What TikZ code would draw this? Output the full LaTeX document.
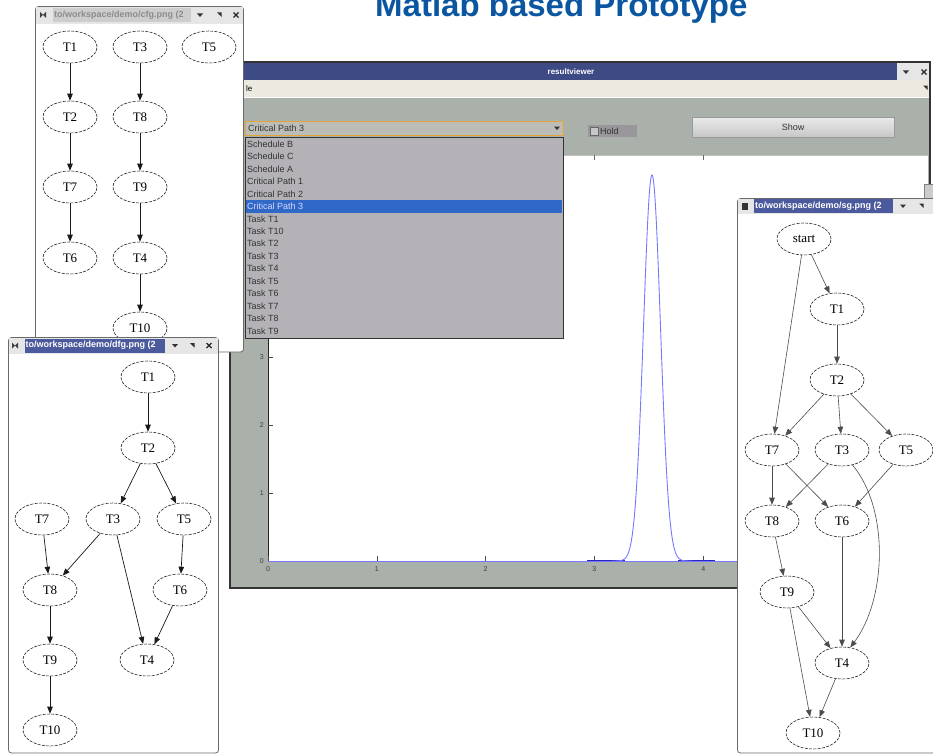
\documentclass[tikz,border=0pt]{standalone}
\usepackage{fontspec}
\setmainfont{Liberation Serif}
\newfontfamily\uisans{Liberation Sans}
\usetikzlibrary{shapes.geometric,arrows.meta}

\definecolor{titleblue}{HTML}{0A56A0}
\definecolor{wmblue}{HTML}{3E4A84}
\definecolor{hlblue}{HTML}{4A5A9C}
\definecolor{panel}{HTML}{AAB1AA}
\definecolor{menubg}{HTML}{ECE9E0}
\definecolor{listbg}{HTML}{B4B2B6}
\definecolor{selblue}{HTML}{3068C8}
\definecolor{combo}{HTML}{BDBDB7}
\definecolor{comboedge}{HTML}{E3A43A}
\definecolor{curve}{HTML}{7878FF}
\definecolor{curvedark}{HTML}{2626C8}
\definecolor{winedge}{HTML}{6A6A6A}
\definecolor{inactbar}{HTML}{E6E6E6}
\definecolor{inacthl}{HTML}{CDCDCD}

% title-bar glyphs: drop-down arrow, corner arrow, close cross
\newcommand{\glyphdown}[2]{\fill[black!80] (#1-3,#2-1.5) -- (#1+3,#2-1.5) -- (#1,#2+2) -- cycle;}
\newcommand{\glyphcorner}[2]{\fill[black!80] (#1-2,#2-2.5) -- (#1+2.5,#2-2.5) -- (#1+2.5,#2+2) -- cycle;}
\newcommand{\glyphclose}[2]{\draw[black!85,line width=1.3bp] (#1-2.5,#2-2.5) -- (#1+2.5,#2+2.5) (#1-2.5,#2+2.5) -- (#1+2.5,#2-2.5);}
\newcommand{\glyphbowtie}[2]{\fill[black!75] (#1-3,#2-3) -- (#1,#2) -- (#1-3,#2+3) -- cycle (#1+3,#2-3) -- (#1,#2) -- (#1+3,#2+3) -- cycle;}

\begin{document}
\begin{tikzpicture}[x=1bp,y=-1bp,
  tnode/.style={ellipse, draw=black!85, dash pattern=on 3bp off 1.3bp,
    line width=0.6bp, minimum width=54bp, minimum height=32bp, inner sep=0pt,
    fill=white, font=\fontsize{13bp}{15bp}\selectfont},
  edge/.style={-{Triangle[length=7bp,width=5.5bp]}, line width=0.7bp, black!90},
  sedge/.style={-{Triangle[length=7bp,width=5.5bp]}, line width=0.6bp, black!70},
  bartext/.style={font=\uisans\bfseries\fontsize{9bp}{10bp}\selectfont, inner sep=0pt, anchor=west},
  uitext/.style={font=\uisans\fontsize{9bp}{10bp}\selectfont, inner sep=0pt, text=black!80},
  ticklab/.style={font=\uisans\fontsize{7bp}{8bp}\selectfont, inner sep=0pt, text=black!75},
  winframe/.style={draw=winedge, line width=0.8bp, fill=white, rounded corners=3bp}
]
\useasboundingbox (0,0) rectangle (933,756);
\fill[white] (0,0) rectangle (933,756);

% ---------------- resultviewer window ----------------
\fill[panel] (230,62) rectangle (930,588);
\fill[menubg] (230,80) rectangle (930,98);
\draw[white] (230,97.5) -- (930,97.5);
\fill[wmblue] (230,63) rectangle (897,80);
\fill[inactbar] (897,63) rectangle (930,80);
\node[font=\uisans\bfseries\fontsize{8bp}{9bp}\selectfont, text=white, inner sep=0pt] (rvtitle) at (571,72) {resultviewer};
\glyphdown{906}{72}
\glyphclose{924}{72}
\node[font=\uisans\fontsize{8bp}{9bp}\selectfont, inner sep=0pt, anchor=west] (rvmenu) at (246,89) {le};
\glyphcorner{925}{88}

% axes
\fill[white] (268,155) rectangle (928,561);
\draw[black!25] (268,155.5) -- (928,155.5);
\draw[black!85, line width=0.8bp] (268,155) -- (268,561) -- (928,561);
\foreach \t/\xx in {0/268,1/376.8,2/485.6,3/594.4,4/703.2}{
  \draw[black!70] (\xx,561) -- (\xx,556);
  \draw[black!60] (\xx,155) -- (\xx,160);
  \node[ticklab, anchor=north] (xt\t) at (\xx,566) {\t};
}
\foreach \t/\yy in {0/561,1/493,2/425,3/357}{
  \draw[black!70] (268,\yy) -- (273,\yy);
  \node[ticklab, anchor=east] (yt\t) at (264,\yy) {\t};
}
% distribution curve
\draw[curve, line width=0.8bp] (268,561) -- (928,561);
\draw[curvedark, line width=1.6bp] (587,560.5) -- (625,560.5) (678,560.5) -- (715,560.5);
\draw[curve, line width=0.9bp, domain=612:692, samples=161, smooth]
  plot (\x, {561-386*exp(-((\x-652)^2)/144.5)});

% window border and scroll handle at the right edge
\draw[black!80, line width=1.4bp] (230,62) -- (930,62) -- (930,588) -- (230,588) -- cycle;
\draw[black!50, fill=black!20] (924,184) rectangle (933,198);

% controls
\draw[comboedge, fill=combo, line width=1bp] (245,121) rectangle (563,135);
\node[uitext, anchor=west] (combotext) at (248,128) {Critical Path 3};
\glyphdown{557}{128}
\fill[black!15!listbg] (588,125) rectangle (637,137);
\draw[black!60, fill=black!22] (590,127) rectangle (598.5,135.5);
\node[uitext, anchor=west] (hold) at (600,131) {Hold};
\shade[top color=white!92!black, bottom color=black!22, draw=black!40] (692,117) rectangle (894,137);
\node[uitext] (show) at (793,127) {Show};

% drop-down list
\draw[black!80, fill=listbg, line width=1bp] (245,137) rectangle (563,338);
\fill[selblue] (246,200) rectangle (562,212.5);
\foreach \i/\lab in {0/Schedule B,1/Schedule C,2/Schedule A,3/Critical Path 1,4/Critical Path 2,
  6/Task T1,7/Task T10,8/Task T2,9/Task T3,10/Task T4,11/Task T5,12/Task T6,13/Task T7,14/Task T8,15/Task T9}{
  \node[uitext, anchor=west] (item\i) at (247,144+12.47*\i) {\lab};
}
\node[uitext, anchor=west, text=white!85!blue] (item5) at (247,206.4) {Critical Path 3};

% ---------------- cfg window ----------------
\draw[winframe] (35.5,6.5) rectangle (243.5,352);
\fill[inactbar] (36.3,7.3) rectangle (242.7,24);
\fill[inacthl] (53,8) rectangle (191,22);
\node[bartext, text=black!45] (cfgtitle) at (54,15) {to/workspace/demo/cfg.png (2};
\glyphbowtie{43}{15}
\glyphdown{200}{15}
\glyphcorner{219}{15}
\glyphclose{236}{15}

\node[tnode] (c1) at (70,47) {T1};
\node[tnode] (c3) at (140,47) {T3};
\node[tnode] (c5) at (209,47) {T5};
\node[tnode] (c2) at (70,117) {T2};
\node[tnode] (c8) at (140,117) {T8};
\node[tnode] (c7) at (70,187) {T7};
\node[tnode] (c9) at (140,187) {T9};
\node[tnode] (c6) at (70,258) {T6};
\node[tnode] (c4) at (140,258) {T4};
\node[tnode] (c10) at (140,328) {T10};
\foreach \a/\b in {c1/c2,c2/c7,c7/c6,c3/c8,c8/c9,c9/c4,c4/c10}
  \draw[edge] (\a) -- (\b);

% ---------------- dfg window ----------------
\draw[winframe] (8.5,337.5) rectangle (218.5,753);
\fill[inactbar] (9.3,338.3) rectangle (217.7,354);
\fill[hlblue] (25,338.5) rectangle (165,352.5);
\node[bartext, text=white] (dfgtitle) at (25.5,345.5) {to/workspace/demo/dfg.png (2};
\fill[inactbar] (9.3,338.3) rectangle (24.5,354);
\glyphbowtie{15}{345.5}
\glyphdown{175}{345.5}
\glyphcorner{192}{345.5}
\glyphclose{209}{345.5}

\node[tnode] (d1) at (148,377) {T1};
\node[tnode] (d2) at (148,448) {T2};
\node[tnode] (d7) at (42,519) {T7};
\node[tnode] (d3) at (113,519) {T3};
\node[tnode] (d5) at (184,519) {T5};
\node[tnode] (d8) at (50,590) {T8};
\node[tnode] (d6) at (180,590) {T6};
\node[tnode] (d9) at (50,660) {T9};
\node[tnode] (d4) at (147,660) {T4};
\node[tnode] (d10) at (50,730) {T10};
\foreach \a/\b in {d1/d2,d2/d3,d2/d5,d7/d8,d3/d8,d3/d4,d5/d6,d6/d4,d8/d9,d9/d10}
  \draw[edge] (\a) -- (\b);

% ---------------- sg window ----------------
\draw[winframe] (737.5,198.5) rectangle (950,753);
\fill[inactbar] (738.3,199.3) rectangle (933,214);
\fill[hlblue] (754,199) rectangle (893,213);
\node[bartext, text=white] (sgtitle) at (755,206) {to/workspace/demo/sg.png (2};
\fill[inactbar] (738.3,199.3) rectangle (753.5,214);
\fill[black!80] (742,202.5) rectangle (748,209.5);
\glyphdown{903}{206}
\glyphcorner{921}{206}

\node[tnode] (s0) at (804,239) {start};
\node[tnode] (s1) at (837,309) {T1};
\node[tnode] (s2) at (837,380) {T2};
\node[tnode] (s7) at (772,450) {T7};
\node[tnode] (s3) at (842,450) {T3};
\node[tnode] (s5) at (906,450) {T5};
\node[tnode] (s8) at (772,521) {T8};
\node[tnode] (s6) at (842,521) {T6};
\node[tnode] (s9) at (787,592) {T9};
\node[tnode] (s4) at (842,663) {T4};
\node[tnode] (s10) at (813,733) {T10};
\foreach \a/\b in {s0/s1,s0/s7,s1/s2,s2/s7,s2/s3,s2/s5,s7/s8,s7/s6,s3/s8,s5/s6,s8/s9,s6/s4,s9/s4,s9/s10,s4/s10}
  \draw[sedge] (\a) -- (\b);
\draw[sedge] (s3.-55) .. controls (890,510) and (886,600) .. (s4.62);

% ---------------- heading ----------------
\node[font=\uisans\bfseries\fontsize{33bp}{36bp}\selectfont, text=titleblue, inner sep=0pt, anchor=base west] (heading) at (375,17) {Matlab based Prototype};
\end{tikzpicture}
\end{document}
